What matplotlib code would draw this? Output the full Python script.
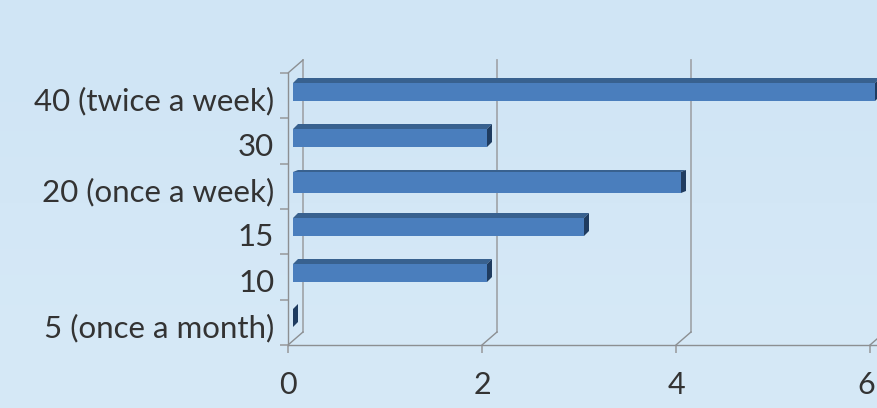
"""Horizontal pseudo-3D bar chart on a pale blue panel."""

import numpy as np
import matplotlib
matplotlib.use("Agg")
import matplotlib.pyplot as plt
from matplotlib.patches import Polygon
from matplotlib.transforms import ScaledTranslation

categories = ["5 (once a month)", "10", "15", "20 (once a week)", "30", "40 (twice a week)"]
counts = [0, 2, 3, 4, 2, 6]
xticks = [0, 2, 4, 6]

W, H = 877, 408
FRONT = "#4a7ebd"
TOP = "#38618f"
SIDE = "#1f3c60"
GRID = "#a3a8ad"
AXIS = "#8c8f92"
TICK = "#a0a4a8"
TEXT = "#333333"

# bar layout in pixels, bottom row first (the original renders unevenly)
bar_bottoms = [327, 282, 236, 193, 147, 101]
bar_heights = [18, 18, 18, 21, 18, 18]
top_depths = [5, 5, 5, 2, 5, 5]

plt.rcParams["font.family"] = ["Lato", "DejaVu Sans"]

fig = plt.figure(figsize=(W / 100, H / 100), dpi=100)

# background gradient
bg = fig.add_axes([0, 0, 1, 1], zorder=0)
bg.imshow(np.array([[0.0], [1.0]]), aspect="auto", interpolation="bicubic",
          cmap=matplotlib.colors.LinearSegmentedColormap.from_list("bg", ["#d0e5f5", "#d6e9f7"]))
bg.axis("off")

# plot box = front axes, x 288..870 px, y 345..73 px
ax = fig.add_axes([288 / W, 1 - 345 / H, (870 - 288) / W, (345 - 73) / H], zorder=1)
ax.patch.set_alpha(0)
ax.set_xlim(0, 6)
ax.set_ylim(0, 6)
px_x = 6 / (870 - 288)
px_y = 6 / (345 - 73)

# back wall
dx, dy = 15 * px_x, 13 * px_y
for v in [0] + xticks[1:]:
    ax.plot([v + dx, v + dx], [dy, 6 + dy], color=GRID, lw=1.3, clip_on=False, zorder=1)
    ax.plot([v, v + dx], [0, dy], color=AXIS, lw=1.0, clip_on=False, zorder=1)
ax.plot([0, dx], [6, 6 + dy], color=AXIS, lw=1.0, clip_on=False, zorder=1)

# bars
inset = 5 * px_x
ddx = 5 * px_x
for c, bot, hgt, dep in zip(counts, bar_bottoms, bar_heights, top_depths):
    y0 = (345 - bot) * px_y
    y1 = y0 + hgt * px_y
    ddy = dep * px_y
    x0, x1 = inset, inset + c
    ax.barh(y0, c, left=inset, height=hgt * px_y, align="edge", color=FRONT,
            linewidth=0, zorder=3, clip_on=False)
    if c > 0:
        ax.add_patch(Polygon([(x0, y1), (x1, y1), (x1 + ddx, y1 + ddy), (x0 + ddx, y1 + ddy)],
                             closed=True, fc=TOP, ec="none", zorder=3, clip_on=False))
    ax.add_patch(Polygon([(x1, y0), (x1, y1), (x1 + ddx, y1 + ddy), (x1 + ddx, y0 + ddy)],
                         closed=True, fc=SIDE, ec="none", zorder=3, clip_on=False))

# axes
for s in ["top", "right"]:
    ax.spines[s].set_visible(False)
for s in ["left", "bottom"]:
    ax.spines[s].set_color(AXIS)
    ax.spines[s].set_linewidth(1.0)
ax.plot([6, 6 + 7 * px_x], [0, 0], color=AXIS, lw=1.0, clip_on=False, zorder=2)

ax.set_xticks(xticks)
ax.set_yticks(np.arange(7))
ax.set_yticklabels([])
ax.tick_params(axis="both", which="major", length=5.5, width=1.3, color=TICK)
ax.tick_params(axis="x", labelsize=22, labelcolor=TEXT, pad=13.5)

# last x label would run off the edge, nudge it in
last = ax.get_xticklabels()[-1]
last.set_transform(last.get_transform() + ScaledTranslation(-2.5 / 72, 0, fig.dpi_scale_trans))

# category labels sit a little below the row centres
ax.set_yticks(np.arange(len(categories)) + 0.43, minor=True)
ax.set_yticklabels(categories, minor=True)
ax.tick_params(axis="y", which="minor", length=0, labelsize=22.5, labelcolor=TEXT, pad=10)

fig.savefig("out.png", dpi=100)
